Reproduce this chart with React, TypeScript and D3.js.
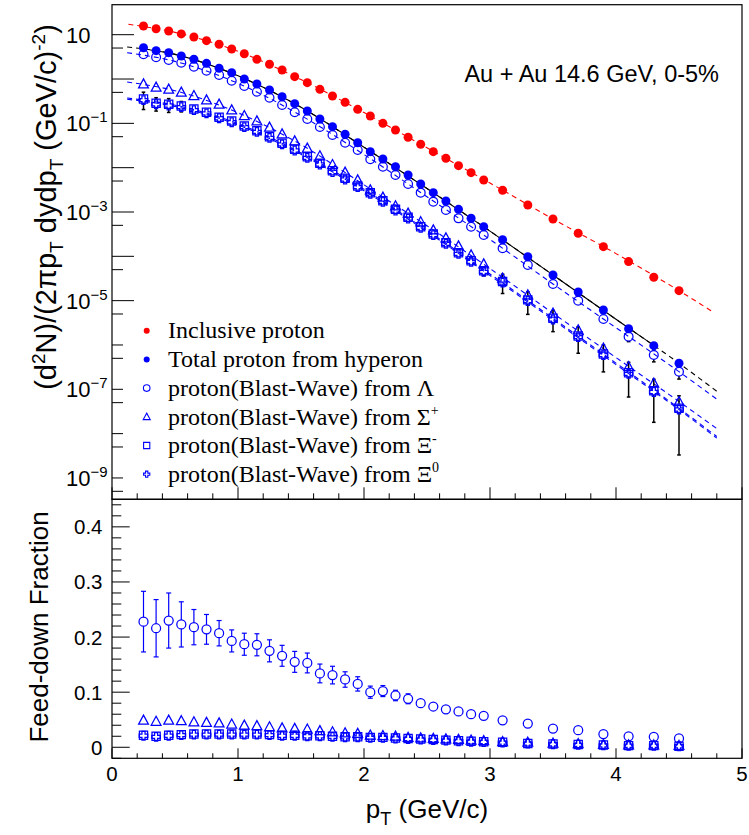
import React from "react";
import * as d3 from "d3";

// ---------------- data ----------------
const PT = [0.25, 0.35, 0.45, 0.55, 0.65, 0.75, 0.85, 0.95, 1.05, 1.15, 1.25, 1.35, 1.45, 1.55, 1.65, 1.75, 1.85,
  1.95, 2.05, 2.15, 2.25, 2.35, 2.45, 2.55, 2.65, 2.75, 2.85, 2.95, 3.1, 3.3, 3.5, 3.7, 3.9, 4.1, 4.3, 4.5];

const INCLUSIVE = [15.7, 13.6, 12.1, 10.4, 8.87, 7.33, 6.07, 4.75, 3.72, 2.78, 2.15, 1.6, 1.13, 0.827, 0.586, 0.414, 0.298,
  0.207, 0.1466, 0.1, 0.0708, 0.0485, 0.0337, 0.023, 0.0163, 0.0111, 0.00771, 0.00527,
  0.00309, 0.00144, 6.95e-4, 3.31e-4, 1.65e-4, 7.6e-5, 3.37e-5, 1.68e-5];
const TOTAL_HYP = [5.09, 4.36, 3.93, 3.31, 2.79, 2.26, 1.75, 1.39, 1.0, 0.773, 0.566, 0.399, 0.278, 0.19, 0.125, 0.0841, 0.0567,
  0.0366, 0.023, 0.0157, 0.0105, 0.00684, 0.00429, 0.00273, 0.00177, 0.00115, 7.21e-4, 4.66e-4,
  2.36e-4, 9.8e-5, 3.8e-5, 1.57e-5, 6.17e-6, 2.33e-6, 9.65e-7, 3.87e-7];
const LAMBDA = [3.61, 3.09, 2.69, 2.33, 1.9, 1.54, 1.23, 0.917, 0.696, 0.518, 0.379, 0.259, 0.178, 0.125, 0.0828, 0.0547, 0.0366,
  0.0251, 0.0155, 0.0105, 0.00684, 0.00429, 0.00273, 0.00171, 0.00111, 7.2e-4, 4.66e-4, 3.03e-4,
  1.52e-4, 6.38e-5, 2.38e-5, 1.0e-5, 3.86e-6, 1.54e-6, 5.96e-7, 2.5e-7];
const LAMBDA_ERR = [0.15, 0.12, 0.1, 0.08, 0.06, 0.05, 0.04, 0.03, 0.022, 0.016, 0.011, 0.008, 0.0055, 0.0038, 0.0025, 0.0017, 0.0011,
  7.5e-4, 4.7e-4, 3.2e-4, 2.1e-4, 1.3e-4, 8.5e-5, 5.4e-5, 3.6e-5, 2.4e-5, 1.6e-5, 1.1e-5,
  6e-6, 5e-6, 2.4e-6, 1.2e-6, 6e-7, 3.5e-7, 1.8e-7, 8e-8];
const SIGMA = [0.773, 0.651, 0.586, 0.502, 0.421, 0.336, 0.269, 0.2, 0.149, 0.113, 0.0814, 0.0575, 0.04, 0.0274, 0.0184, 0.0117, 0.00787,
  0.00527, 0.00314, 0.00215, 0.00137, 9.35e-4, 6.0e-4, 3.93e-4, 2.59e-4, 1.71e-4, 1.07e-4, 6.72e-5,
  3.2e-5, 1.34e-5, 5.19e-6, 2.18e-6, 8.43e-7, 3.24e-7, 1.37e-7, 5.26e-8];
const XIM = [0.355, 0.284, 0.269, 0.246, 0.211, 0.178, 0.137, 0.113, 0.0871, 0.0682, 0.05, 0.0355, 0.026, 0.0177, 0.0126, 0.00855, 0.00576,
  0.00387, 0.00273, 0.0018, 0.00115, 7.6e-4, 4.66e-4, 3.19e-4, 2.03e-4, 1.21e-4, 7.98e-5, 4.75e-5,
  2.7e-5, 1.04e-5, 4.0e-6, 1.6e-6, 6.27e-7, 2.37e-7, 9.3e-8, 3.73e-8];
const XIM_ERR = [0.15, 0.095, 0.093, 0.065, 0.04, 0.025, 0.015, 0.01, 0.007, 0.005, 0.0035, 0.0025, 0.0018, 0.0012, 0.0009, 0.0006, 0.0004,
  0.0003, 0.00022, 0.00015, 0.0001, 7e-5, 4.5e-5, 3.2e-5, 2.2e-5, 1.4e-5, 1.0e-5, 1.1e-5,
  1.25e-5, 5.5e-6, 2.0e-6, 9.5e-7, 3.8e-7, 1.7e-7, 7.5e-8, 3.4e-8];
const XI0 = [0.335, 0.27, 0.253, 0.232, 0.198, 0.168, 0.13, 0.106, 0.082, 0.064, 0.047, 0.0335, 0.0244, 0.0167, 0.0118, 0.008, 0.0054,
  0.00364, 0.00257, 0.00169, 0.00108, 7.1e-4, 4.4e-4, 3.0e-4, 1.91e-4, 1.14e-4, 7.5e-5, 4.45e-5,
  2.55e-5, 9.8e-6, 3.75e-6, 1.5e-6, 5.9e-7, 2.23e-7, 8.7e-8, 3.5e-8];

// blast-wave fit curves (read at knots)
const FIT_INCL_X = [0.13, 0.5, 1.0, 1.5, 2.0, 2.5, 3.0, 3.5, 4.0, 4.5, 4.76];
const FIT_INCL = [17.2, 11.3, 4.2, 0.97, 0.175, 0.028, 0.0045, 6.95e-4, 1.15e-4, 1.68e-5, 5.8e-6];
const FIT_X = [0.12, 0.5, 1.0, 1.5, 2.0, 2.5, 3.0, 3.5, 4.0, 4.5, 4.8];
const FIT_TOTAL = [5.3, 3.6, 1.18, 0.23, 0.029, 0.0034, 3.7e-4, 3.8e-5, 3.8e-6, 3.87e-7, 9e-8];
const FIT_LAMBDA = [3.93, 2.5, 0.8, 0.15, 0.0198, 0.0022, 2.4e-4, 2.38e-5, 2.45e-6, 2.5e-7, 6e-8];
const FIT_SIGMA = [0.857, 0.545, 0.173, 0.0332, 0.0041, 4.9e-4, 5.3e-5, 5.2e-6, 5.2e-7, 5.3e-8, 1.3e-8];
const FIT_XIM = [0.373, 0.257, 0.099, 0.0215, 0.00325, 3.85e-4, 4.0e-5, 4.0e-6, 3.9e-7, 3.75e-8, 8.6e-9];
const FIT_XI0 = [0.35, 0.24, 0.092, 0.02, 0.00302, 3.6e-4, 3.7e-5, 3.7e-6, 3.6e-7, 3.5e-8, 7.9e-9];

// feed-down fractions
const FRAC_LAMBDA = [0.228, 0.216, 0.23, 0.223, 0.218, 0.214, 0.207, 0.193, 0.187, 0.186, 0.175, 0.166, 0.155, 0.153, 0.134, 0.131, 0.123,
  0.115, 0.1, 0.102, 0.094, 0.088, 0.08, 0.074, 0.069, 0.065, 0.06, 0.057,
  0.049, 0.043, 0.034, 0.031, 0.024, 0.02, 0.019, 0.016];
const FRAC_LAMBDA_ERR = [0.055, 0.052, 0.05, 0.041, 0.032, 0.027, 0.023, 0.02, 0.02, 0.02, 0.02, 0.019, 0.019, 0.018, 0.017, 0.016, 0.014,
  0.013, 0.011, 0.01, 0.0095, 0.009, 0.008, 0.007, 0.006, 0.006, 0.005, 0.005,
  0.004, 0.004, 0.003, 0.003, 0.002, 0.002, 0.002, 0.002];
const FRAC_SIGMA = [0.049, 0.047, 0.049, 0.048, 0.046, 0.045, 0.044, 0.042, 0.04, 0.039, 0.037, 0.035, 0.034, 0.033, 0.03, 0.028, 0.026,
  0.025, 0.022, 0.021, 0.02, 0.018, 0.017, 0.016, 0.015, 0.014, 0.013, 0.012,
  0.01, 0.009, 0.0075, 0.0066, 0.005, 0.0043, 0.004, 0.0031];
const FRAC_SIGMA_ERR = [0.006, 0.006, 0.006, 0.005, 0.004, 0.004, 0.004, 0.003, 0.003, 0.003, 0.003, 0.003, 0.003, 0.003, 0.002, 0.002, 0.002,
  0.002, 0.002, 0.002, 0.002, 0.002, 0.001, 0.001, 0.001, 0.001, 0.001, 0.001,
  0.001, 0.001, 0.001, 0.001, 0.001, 0.001, 0.001, 0.001];
const FRAC_XIM = [0.022, 0.02, 0.022, 0.023, 0.024, 0.024, 0.024, 0.024, 0.024, 0.024, 0.023, 0.022, 0.022, 0.021, 0.021, 0.02, 0.019,
  0.019, 0.018, 0.018, 0.017, 0.016, 0.015, 0.014, 0.013, 0.012, 0.011, 0.01,
  0.009, 0.007, 0.006, 0.005, 0.004, 0.003, 0.003, 0.002];
const FRAC_XIM_ERR = [0.005, 0.005, 0.004, 0.004, 0.003, 0.003, 0.003, 0.003, 0.003, 0.003, 0.002, 0.002, 0.002, 0.002, 0.002, 0.002, 0.002,
  0.002, 0.002, 0.002, 0.001, 0.001, 0.001, 0.001, 0.001, 0.001, 0.001, 0.001,
  0.001, 0.001, 0.001, 0.001, 0.001, 0.001, 0.001, 0.001];
const FRAC_XI0 = [0.021, 0.019, 0.021, 0.022, 0.023, 0.023, 0.023, 0.023, 0.023, 0.023, 0.022, 0.021, 0.021, 0.02, 0.02, 0.019, 0.018,
  0.018, 0.017, 0.017, 0.016, 0.015, 0.014, 0.013, 0.012, 0.011, 0.01, 0.0095,
  0.0085, 0.0065, 0.0055, 0.0045, 0.0035, 0.0028, 0.0027, 0.0018];

const TOP_LABEL_EXP = [1, -1, -3, -5, -7, -9];
const BOTTOM_Y_TICKS = [0, 0.1, 0.2, 0.3, 0.4];
const X_TICKS = [0, 1, 2, 3, 4, 5];

const LEGEND = [
  { label: "Inclusive proton", type: "fcircle", color: "#ff0000" },
  { label: "Total proton from hyperon", type: "fcircle", color: "#0000ff" },
  { label: "proton(Blast-Wave) from Λ", type: "ocircle", color: "#0000ff" },
  { label: "proton(Blast-Wave) from Σ", sup: "+", type: "otri", color: "#0000ff" },
  { label: "proton(Blast-Wave) from Ξ", sup: "-", type: "osquare", color: "#0000ff" },
  { label: "proton(Blast-Wave) from Ξ", sup: "0", type: "ocross", color: "#0000ff" },
];

// ---------------- drawing ----------------
const BLUE = "#0000ff";
const RED = "#ff0000";
const SANS = "'Liberation Sans', Arial, Helvetica, sans-serif";
const SERIF = "'Liberation Serif', 'Times New Roman', serif";

function markerPath(type: string, s: number): string {
  if (type === "otri") return `M0,${-s * 1.05}L${s},${s * 0.8}L${-s},${s * 0.8}Z`;
  if (type === "osquare") return `M${-s},${-s}H${s}V${s}H${-s}Z`;
  if (type === "ocross") {
    const a = s * 0.36;
    return `M${-a},${-s}H${a}V${-a}H${s}V${a}H${a}V${s}H${-a}V${a}H${-s}V${-a}H${-a}Z`;
  }
  return "";
}

function Marker({ type, cx, cy, s, color, sw = 1.25 }: any) {
  if (type === "fcircle") return <circle cx={cx} cy={cy} r={s} fill={color} />;
  if (type === "ocircle") return <circle cx={cx} cy={cy} r={s} fill="none" stroke={color} strokeWidth={sw} />;
  return <path transform={`translate(${cx},${cy})`} d={markerPath(type, s)} fill="none" stroke={color} strokeWidth={sw} />;
}

function ErrBar({ cx, cy, y1, y2, gap, cap, color, sw }: any) {
  const parts: any[] = [];
  if (y1 < cy - gap) {
    parts.push(<line key="u" x1={cx} x2={cx} y1={y1} y2={cy - gap} stroke={color} strokeWidth={sw} />);
    parts.push(<line key="uc" x1={cx - cap} x2={cx + cap} y1={y1} y2={y1} stroke={color} strokeWidth={sw} />);
  }
  if (y2 > cy + gap) {
    parts.push(<line key="d" x1={cx} x2={cx} y1={cy + gap} y2={y2} stroke={color} strokeWidth={sw} />);
    parts.push(<line key="dc" x1={cx - cap} x2={cx + cap} y1={y2} y2={y2} stroke={color} strokeWidth={sw} />);
  }
  return <g>{parts}</g>;
}

export default function App() {
  const W = 749, H = 835;
  const x = d3.scaleLinear().domain([0, 5]).range([112, 742]);
  const yT = d3.scaleLog().domain([3.3e-10, 47.5]).range([499.3, 4.7]);
  const yB = d3.scaleLinear().domain([-0.02, 0.45]).range([758.3, 499.3]);
  const L = 112, R = 742, T = 4.7, MID = 499.3, B = 758.3;

  const fitLine = d3.line<[number, number]>().x((d) => x(d[0])).y((d) => yT(d[1])).curve(d3.curveMonotoneX);
  const zip = (xs: number[], ys: number[]) => xs.map((v, i) => [v, ys[i]] as [number, number]);

  const fits = [
    { d: zip(FIT_INCL_X, FIT_INCL), c: RED },
    { d: zip(FIT_X, FIT_TOTAL), c: "#000" },
    { d: zip(FIT_X, FIT_LAMBDA), c: BLUE },
    { d: zip(FIT_X, FIT_SIGMA), c: BLUE },
    { d: zip(FIT_X, FIT_XIM), c: BLUE },
    { d: zip(FIT_X, FIT_XI0), c: BLUE },
  ];

  const topSeries = [
    { v: INCLUSIVE, type: "fcircle", color: RED, s: 4.5 },
    { v: TOTAL_HYP, type: "fcircle", color: BLUE, s: 4.5 },
    { v: LAMBDA, type: "ocircle", color: BLUE, s: 4.4, e: LAMBDA_ERR },
    { v: SIGMA, type: "otri", color: BLUE, s: 4.9 },
    { v: XIM, type: "osquare", color: BLUE, s: 4.1, e: XIM_ERR },
    { v: XI0, type: "ocross", color: BLUE, s: 4.3 },
  ];

  const botSeries = [
    { v: FRAC_LAMBDA, e: FRAC_LAMBDA_ERR, type: "ocircle", s: 4.5 },
    { v: FRAC_SIGMA, e: FRAC_SIGMA_ERR, type: "otri", s: 4.9 },
    { v: FRAC_XIM, e: FRAC_XIM_ERR, type: "osquare", s: 4.1 },
    { v: FRAC_XI0, e: FRAC_XIM_ERR, type: "ocross", s: 4.3 },
  ];

  // ticks
  const decades = d3.range(-9, 2).map((p) => Math.pow(10, p));
  const halfDecades = d3.range(-9, 2).map((p) => 0.5 * Math.pow(10, p)).filter((v) => v > 3.3e-10 && v < 47.5);
  const xMinor = d3.range(0, 25).map((i) => i * 0.2).filter((v) => Math.abs(v - Math.round(v)) > 1e-6);
  const yBMinor = d3.range(-1, 23).map((i) => i * 0.02).filter((v) => Math.abs(v * 10 - Math.round(v * 10)) > 1e-6);

  return (
    <svg width={W} height={H} style={{ position: "absolute", left: 0, top: 0, background: "#fff" }} fontFamily={SANS}>
      <rect x={0} y={0} width={W} height={H} fill="#fff" />
      <defs>
        <clipPath id="solidClip"><rect x={x(0.3)} y={0} width={x(4.3) - x(0.3)} height={H} /></clipPath>
        <clipPath id="topClip"><rect x={L} y={T} width={R - L} height={MID - T} /></clipPath>
      </defs>

      {/* ---------- top panel ---------- */}
      <g clipPath="url(#topClip)">
        {fits.map((f, i) => (
          <path key={i} d={fitLine(f.d) || ""} fill="none" stroke={f.c} strokeWidth={1.1} strokeDasharray="5,4" />
        ))}
        <path d={fitLine(fits[1].d) || ""} fill="none" stroke="#000" strokeWidth={1.1} clipPath="url(#solidClip)" />
      </g>

      {/* error bars top */}
      {topSeries.map((sr, si) =>
        sr.e ? (
          <g key={"te" + si}>
            {PT.map((p, i) => (
              <ErrBar key={i} cx={x(p)} cy={yT(sr.v[i])} y1={yT(sr.v[i] + sr.e![i])}
                y2={yT(Math.max(sr.v[i] - sr.e![i], 3.4e-10))} gap={sr.s} cap={1.8} color="#000" sw={1.5} />
            ))}
          </g>
        ) : null
      )}

      {topSeries.map((sr, si) => (
        <g key={"ts" + si}>
          {PT.map((p, i) => (
            <Marker key={i} type={sr.type} cx={x(p)} cy={yT(sr.v[i])} s={sr.s} color={sr.color} />
          ))}
        </g>
      ))}

      {/* top axes ticks */}
      {decades.map((v, i) => (
        <line key={"dt" + i} x1={L} x2={L + 22} y1={yT(v)} y2={yT(v)} stroke="#000" strokeWidth={1} />
      ))}
      {halfDecades.map((v, i) => (
        <line key={"ht" + i} x1={L} x2={L + 11} y1={yT(v)} y2={yT(v)} stroke="#000" strokeWidth={1} />
      ))}
      {X_TICKS.map((v, i) => (
        <line key={"xtt" + i} x1={x(v)} x2={x(v)} y1={MID} y2={MID - 12} stroke="#000" strokeWidth={1} />
      ))}
      {xMinor.map((v, i) => (
        <line key={"xtm" + i} x1={x(v)} x2={x(v)} y1={MID} y2={MID - 6} stroke="#000" strokeWidth={1} />
      ))}

      {/* top y labels */}
      {TOP_LABEL_EXP.map((p, i) => (
        <text key={"yl" + i} x={66} y={yT(Math.pow(10, p)) + 8} fontSize={22} fill="#000">
          10
          {p !== 1 ? <tspan dy={-9} fontSize={15}>{"−" + Math.abs(p)}</tspan> : null}
        </text>
      ))}

      {/* legend */}
      <rect x={123} y={312} width={340} height={174} fill="#fff" />
      {LEGEND.map((lg, i) => {
        const cy = 330.7 + i * 28.7;
        const ms = lg.type === "fcircle" ? 3 : lg.type === "ocircle" ? 3.3 : lg.type === "otri" ? 3.5 : 3.1;
        return (
          <g key={"lg" + i}>
            <Marker type={lg.type} cx={146.7} cy={cy} s={ms} color={lg.color} sw={1.1} />
            <text x={168} y={cy + 7.7} fontFamily={SERIF} fontSize={24} fill="#000">
              {lg.label}
              {lg.sup ? <tspan dy={-10} fontSize={14}>{lg.sup}</tspan> : null}
            </text>
          </g>
        );
      })}

      <text x={719} y={82} fontSize={23.5} textAnchor="end" fill="#000">Au + Au 14.6 GeV, 0-5%</text>

      {/* top y title */}
      <text transform="translate(56,207) rotate(-90)" textAnchor="middle" fontSize={29} fill="#000">
        (d<tspan dy={-11} fontSize={19}>2</tspan><tspan dy={11}>N)/(2πp</tspan>
        <tspan dy={7} fontSize={19}>T</tspan><tspan dy={-7}> dydp</tspan>
        <tspan dy={7} fontSize={19}>T</tspan><tspan dy={-7}> (GeV/c)</tspan>
        <tspan dy={-11} fontSize={19}>-2</tspan><tspan dy={11}>)</tspan>
      </text>

      {/* ---------- bottom panel ---------- */}
      {botSeries.map((sr, si) => (
        <g key={"be" + si}>
          {PT.map((p, i) => (
            <ErrBar key={i} cx={x(p)} cy={yB(sr.v[i])} y1={yB(sr.v[i] + sr.e[i])} y2={yB(sr.v[i] - sr.e[i])}
              gap={sr.s} cap={2.5} color={BLUE} sw={1.2} />
          ))}
        </g>
      ))}
      {botSeries.map((sr, si) => (
        <g key={"bs" + si}>
          {PT.map((p, i) => (
            <Marker key={i} type={sr.type} cx={x(p)} cy={yB(sr.v[i])} s={sr.s} color={BLUE} />
          ))}
        </g>
      ))}

      {BOTTOM_Y_TICKS.map((v, i) => (
        <g key={"byt" + i}>
          <line x1={L} x2={L + 17.7} y1={yB(v)} y2={yB(v)} stroke="#000" strokeWidth={1} />
          <text x={102.5} y={yB(v) + 7.5} fontSize={20.5} textAnchor="end" fill="#000">{v === 0 ? "0" : v.toFixed(1)}</text>
        </g>
      ))}
      {yBMinor.map((v, i) => (
        <line key={"bym" + i} x1={L} x2={L + 9.3} y1={yB(v)} y2={yB(v)} stroke="#000" strokeWidth={1} />
      ))}
      {X_TICKS.map((v, i) => (
        <g key={"bxt" + i}>
          <line x1={x(v)} x2={x(v)} y1={B} y2={B - 10} stroke="#000" strokeWidth={1} />
          <text x={x(v)} y={781} fontSize={20.5} textAnchor="middle" fill="#000">{v}</text>
        </g>
      ))}
      {xMinor.map((v, i) => (
        <line key={"bxm" + i} x1={x(v)} x2={x(v)} y1={B} y2={B - 5} stroke="#000" strokeWidth={1} />
      ))}

      <text transform="translate(48,627) rotate(-90)" textAnchor="middle" fontSize={26} fill="#000">Feed-down Fraction</text>
      <text x={427} y={818} textAnchor="middle" fontSize={26} fill="#000">
        p<tspan dy={7} fontSize={18}>T</tspan><tspan dy={-7}> (GeV/c)</tspan>
      </text>

      {/* frames */}
      <rect x={L} y={T} width={R - L} height={MID - T} fill="none" stroke="#000" strokeWidth={1.2} />
      <rect x={L} y={MID} width={R - L} height={B - MID} fill="none" stroke="#000" strokeWidth={1.2} />
    </svg>
  );
}
